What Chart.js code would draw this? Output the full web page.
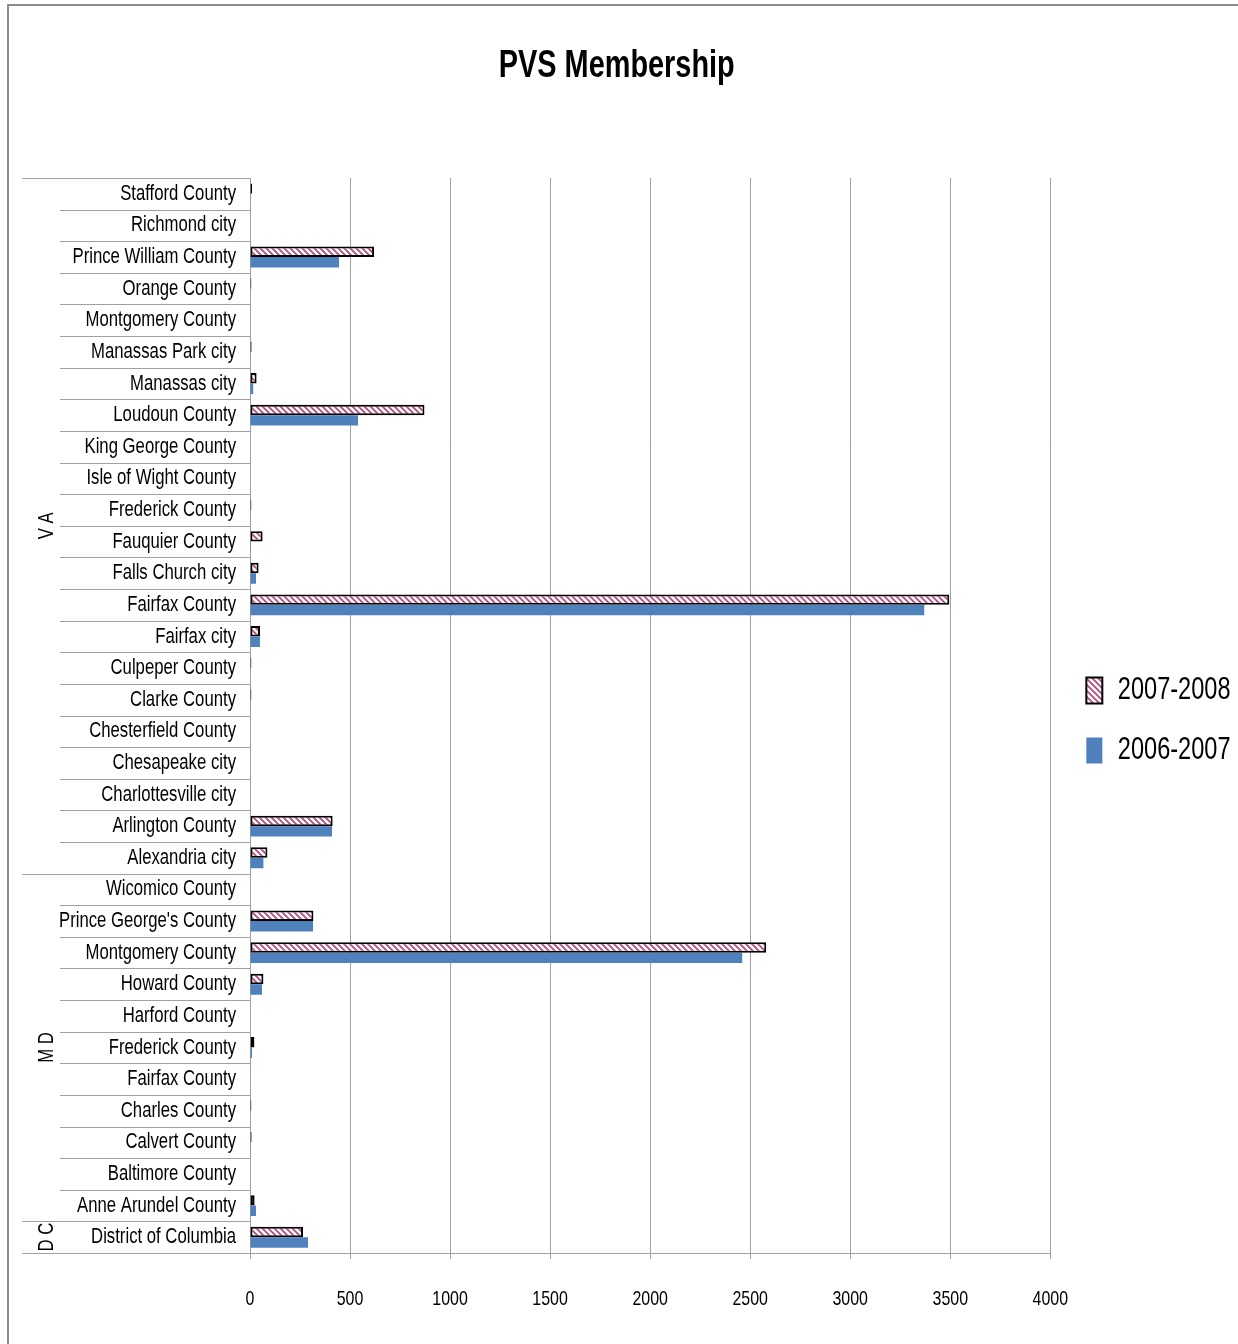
<!DOCTYPE html>
<html>
<head>
<meta charset="utf-8">
<script src="https://cdn.jsdelivr.net/npm/chart.js@4/dist/chart.umd.min.js"></script>
<style>
  html, body { margin: 0; padding: 0; background: #fff; }
  #wrap { width: 1238px; height: 1344px; position: relative; }
</style>
</head>
<body>
<div id="wrap"><canvas id="c"></canvas></div>
<script>
const categories = [
  "Stafford County", "Richmond city", "Prince William County", "Orange County",
  "Montgomery County", "Manassas Park city", "Manassas city", "Loudoun County",
  "King George County", "Isle of Wight County", "Frederick County", "Fauquier County",
  "Falls Church city", "Fairfax County", "Fairfax city", "Culpeper County",
  "Clarke County", "Chesterfield County", "Chesapeake city", "Charlottesville city",
  "Arlington County", "Alexandria city",
  "Wicomico County", "Prince George's County", "Montgomery County", "Howard County",
  "Harford County", "Frederick County", "Fairfax County", "Charles County",
  "Calvert County", "Baltimore County", "Anne Arundel County",
  "District of Columbia"
];
const groupNames = ["V A", "M D", "D C"];
const groupSizes = [22, 11, 1];

const series2007_2008 = [
  10, 0, 620, 7, 0, 8, 33, 872, 0, 0, 7, 63, 43, 3495, 50, 7, 7, 0, 0, 0, 413, 87,
  0, 317, 2580, 67, 0, 22, 0, 7, 8, 0, 23,
  265
];
const series2006_2007 = [
  2, 0, 445, 0, 0, 3, 16, 540, 0, 0, 2, 5, 30, 3370, 50, 0, 2, 0, 0, 0, 410, 67,
  0, 315, 2460, 60, 0, 10, 0, 0, 4, 0, 30,
  290
];
const seriesNames = ["2007-2008", "2006-2007"];
const xTicks = [0, 500, 1000, 1500, 2000, 2500, 3000, 3500, 4000];

const FONT = "'Liberation Sans', Arial, sans-serif";
const GRID = '#a0a0a0';
const SX = 0.76; // horizontal condensing of all chart text

const canvas = document.getElementById('c');
const c2d = canvas.getContext('2d');
(function condenseText(ctx) {
  const origFill = ctx.fillText.bind(ctx);
  const origMeasure = ctx.measureText.bind(ctx);
  ctx.fillText = function (text, x, y, maxWidth) {
    ctx.save();
    ctx.translate(x, y);
    ctx.scale(SX, 1);
    if (maxWidth !== undefined && maxWidth !== null) origFill(text, 0, 0, maxWidth / SX);
    else origFill(text, 0, 0);
    ctx.restore();
  };
  ctx.measureText = function (text) {
    const m = origMeasure(text);
    return {
      width: m.width * SX,
      actualBoundingBoxLeft: m.actualBoundingBoxLeft * SX,
      actualBoundingBoxRight: m.actualBoundingBoxRight * SX,
      actualBoundingBoxAscent: m.actualBoundingBoxAscent,
      actualBoundingBoxDescent: m.actualBoundingBoxDescent,
      fontBoundingBoxAscent: m.fontBoundingBoxAscent,
      fontBoundingBoxDescent: m.fontBoundingBoxDescent
    };
  };
})(c2d);

function makeHatch() {
  const s = 6;
  const c = document.createElement('canvas');
  c.width = s; c.height = s;
  const g = c.getContext('2d');
  g.fillStyle = '#ffffff';
  g.fillRect(0, 0, s, s);
  g.strokeStyle = '#b8467c';
  g.lineWidth = 1.7;
  g.beginPath();
  g.moveTo(-1, -1); g.lineTo(s + 1, s + 1);
  g.moveTo(-1, s - 1); g.lineTo(1, s + 1);
  g.moveTo(s - 1, -1); g.lineTo(s + 1, 1);
  g.stroke();
  return c2d.createPattern(c, 'repeat');
}
const hatch = makeHatch();

const decor = {
  id: 'decor',
  beforeDraw(chart) {
    const ctx = chart.ctx;
    ctx.save();
    ctx.fillStyle = '#fff';
    ctx.fillRect(0, 0, chart.width, chart.height);
    ctx.strokeStyle = '#8c8c8c';
    ctx.lineWidth = 2;
    ctx.beginPath();
    ctx.moveTo(8, chart.height);
    ctx.lineTo(8, 5);
    ctx.lineTo(chart.width, 5);
    ctx.stroke();
    ctx.restore();
  },
  afterLayout(chart) {
    const lg = chart.legend;
    if (lg) { lg.left += 7; lg.right += 7; lg.top += 5; lg.bottom += 5; }
  },
  afterDraw(chart) {
    const ctx = chart.ctx;
    const y = chart.scales.y;
    const n = categories.length;
    const bounds = [y.top];
    for (let i = 1; i < n; i++) {
      bounds.push((y.getPixelForValue(i - 1) + y.getPixelForValue(i)) / 2);
    }
    bounds.push(y.bottom);
    const groupEdges = new Set([0]);
    let acc = 0;
    groupSizes.forEach(sz => { acc += sz; groupEdges.add(acc); });
    ctx.save();
    ctx.strokeStyle = GRID;
    ctx.lineWidth = 1;
    bounds.forEach((b, i) => {
      const yy = Math.round(b) + 0.5;
      ctx.beginPath();
      ctx.moveTo(groupEdges.has(i) ? 22 : 60, yy);
      ctx.lineTo(y.right, yy);
      ctx.stroke();
    });
    ctx.fillStyle = '#000';
    ctx.font = '22px ' + FONT;
    ctx.textAlign = 'center';
    ctx.textBaseline = 'middle';
    let start = 0;
    groupNames.forEach((g, gi) => {
      const end = start + groupSizes[gi];
      const cy = (bounds[start] + bounds[end]) / 2;
      ctx.save();
      ctx.translate(47, cy);
      ctx.rotate(-Math.PI / 2);
      ctx.fillText(g, 0, 0);
      ctx.restore();
      start = end;
    });
    ctx.restore();
  }
};

new Chart(canvas, {
  type: 'bar',
  data: {
    labels: categories,
    datasets: [
      {
        label: seriesNames[0],
        data: series2007_2008,
        backgroundColor: hatch,
        borderColor: '#000000',
        borderWidth: 2,
        borderSkipped: false
      },
      {
        label: seriesNames[1],
        data: series2006_2007,
        backgroundColor: '#4f81bd',
        borderWidth: 0
      }
    ]
  },
  options: {
    indexAxis: 'y',
    responsive: true,
    maintainAspectRatio: false,
    animation: false,
    categoryPercentage: 0.66,
    barPercentage: 1.0,
    layout: { padding: { top: 0, right: 4.5, bottom: 0, left: 0 } },
    plugins: {
      title: {
        display: true,
        text: 'PVS Membership',
        color: '#000',
        font: { family: FONT, size: 38, weight: 'bold' },
        padding: { top: 44, bottom: 88.4 }
      },
      legend: {
        display: true,
        position: 'right',
        fullSize: false,
        labels: {
          color: '#000',
          font: { family: FONT, size: 31 },
          boxWidth: 16,
          boxHeight: 26,
          padding: 29
        }
      },
      tooltip: { enabled: false }
    },
    scales: {
      x: {
        type: 'linear',
        min: xTicks[0],
        max: xTicks[xTicks.length - 1],
        afterFit(scale) { scale.height = 91; },
        afterBuildTicks(scale) { scale.ticks = xTicks.map(v => ({ value: v })); },
        ticks: {
          color: '#000',
          padding: 28,
          font: { family: FONT, size: 21 },
          callback: (v) => String(v)
        },
        grid: { color: GRID, lineWidth: 1, tickLength: 6, drawTicks: true },
        border: { display: true, color: GRID, width: 1 }
      },
      y: {
        type: 'category',
        afterFit(scale) { scale.width = 250; },
        ticks: {
          color: '#000',
          padding: 14,
          autoSkip: false,
          font: { family: FONT, size: 22 }
        },
        grid: { display: false, drawTicks: false },
        border: { display: true, color: GRID, width: 1 }
      }
    }
  },
  plugins: [decor]
});
</script>
</body>
</html>
